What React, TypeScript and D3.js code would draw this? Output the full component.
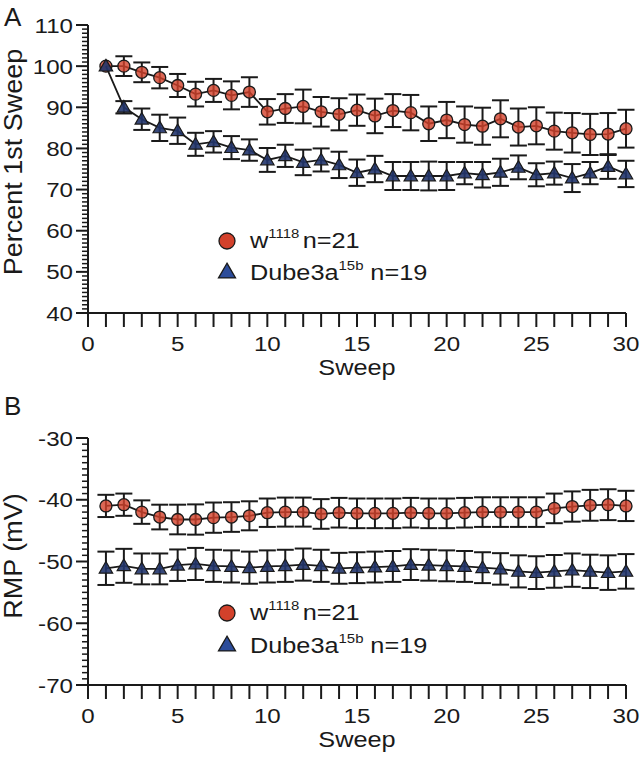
import React from "react";
import * as d3 from "d3";

const sweeps = [1,2,3,4,5,6,7,8,9,10,11,12,13,14,15,16,17,18,19,20,21,22,23,24,25,26,27,28,29,30];

const wA = [100,100,98.5,97.2,95.3,93.2,94.1,92.9,93.7,88.9,89.7,90.2,88.9,88.3,89.3,87.9,89.2,88.7,86.0,86.9,85.8,85.4,87.2,85.2,85.5,84.2,83.8,83.4,83.5,84.8];
const wAerr = [0,2.4,2.4,2.6,2.8,3.0,2.8,3.4,3.6,3.1,3.5,4.1,3.6,3.9,3.8,4.2,4.0,4.3,4.2,4.4,4.4,4.5,4.5,4.5,4.5,4.5,4.8,5.0,5.1,4.6];
const dA = [100,90.0,87.1,85.0,84.3,81.0,81.6,80.2,79.6,77.2,78.2,76.6,77.2,76.0,74.1,75.0,73.3,73.3,73.3,73.3,74.0,73.6,74.2,75.4,73.6,74.0,72.8,74.0,75.6,73.8];
const dAerr = [0,1.5,2.6,3.2,3.2,2.8,2.6,2.8,2.6,2.9,2.7,3.1,2.8,3.2,3.2,3.2,3.4,3.4,3.5,3.4,2.7,3.1,3.3,2.9,2.8,2.8,3.4,2.7,3.0,3.2];

const wB = [-41.0,-40.8,-42.0,-42.8,-43.2,-43.2,-42.9,-42.8,-42.6,-42.1,-42.0,-42.0,-42.3,-42.1,-42.2,-42.2,-42.2,-42.1,-42.2,-42.2,-42.1,-42.0,-42.0,-42.0,-42.0,-41.4,-41.1,-40.9,-40.8,-41.0];
const wBerr = [1.8,1.8,1.9,2.0,2.4,2.45,2.45,2.4,2.35,2.3,2.35,2.35,2.4,2.4,2.4,2.4,2.4,2.4,2.4,2.4,2.4,2.4,2.4,2.4,2.4,2.4,2.45,2.5,2.5,2.45];
const dB = [-51.1,-50.7,-51.2,-51.2,-50.6,-50.4,-50.7,-50.8,-51.0,-50.8,-50.7,-50.5,-50.7,-51.1,-51.0,-50.9,-50.8,-50.5,-50.6,-50.7,-50.8,-51.0,-51.2,-51.6,-51.8,-51.6,-51.4,-51.6,-51.8,-51.6];
const dBerr = [2.7,2.75,2.5,2.5,2.55,2.6,2.6,2.6,2.6,2.6,2.6,2.6,2.6,2.5,2.5,2.5,2.5,2.5,2.5,2.5,2.5,2.5,2.55,2.6,2.65,2.65,2.7,2.7,2.8,2.8];

const xTicks = [0,5,10,15,20,25,30];
const yTicksA = [40,50,60,70,80,90,100,110];
const yTicksB = [-70,-60,-50,-40,-30];

const FONT = "'Liberation Sans', Arial, Helvetica, sans-serif";
const INK = "#1a1a1a";
const RED = "#d3412b";
const BLUE = "#2c4c9a";
const DARKBLUE = "#22356c";
const SX = 1.15;

type Sc = d3.ScaleLinear<number, number>;

function SText({ x, y, size, anchor = "start", sx = SX, children }: any) {
  return (
    <g transform={`translate(${x},${y}) scale(${sx},1)`}>
      <text x={0} y={0} fontSize={size} fontFamily={FONT} textAnchor={anchor} fill={INK}>
        {children}
      </text>
    </g>
  );
}

function Axes({ x, y, yTicks, yMinorStep, yLabel, yLabelCenter }: { x: Sc; y: Sc; yTicks: number[]; yMinorStep: number; yLabel: string; yLabelCenter: number }) {
  const [y0, y1] = y.domain();
  const minors = d3.range(y0, y1 + 0.001, yMinorStep).filter((v) => !yTicks.some((t) => Math.abs(t - v) < 1e-6));
  const xAll = d3.range(0, 31, 1);
  const x0 = x(0);
  const yb = y(y0);
  return (
    <g>
      <line x1={x0} x2={x0} y1={y(y1)} y2={yb} stroke={INK} strokeWidth={2} />
      <line x1={x0} x2={x(30)} y1={yb} y2={yb} stroke={INK} strokeWidth={2} />
      {minors.map((v) => (
        <line key={"m" + v} x1={x0 - 6} x2={x0} y1={y(v)} y2={y(v)} stroke={INK} strokeWidth={1.5} />
      ))}
      {yTicks.map((v) => (
        <g key={"t" + v}>
          <line x1={x0 - 12} x2={x0} y1={y(v)} y2={y(v)} stroke={INK} strokeWidth={2} />
          <SText x={x0 - 15} y={y(v) + 7.5} size={21} anchor="end">{v}</SText>
        </g>
      ))}
      {xAll.map((v) => (
        <line key={"x" + v} x1={x(v)} x2={x(v)} y1={yb} y2={yb + 14} stroke={INK} strokeWidth={2} />
      ))}
      {xTicks.map((v) => (
        <SText key={"xl" + v} x={x(v)} y={yb + 38} size={21} anchor="middle">{v}</SText>
      ))}
      <SText x={(x(0) + x(30)) / 2} y={yb + 62} size={22} anchor="middle">Sweep</SText>
      <g transform={`translate(22,${yLabelCenter}) rotate(-90) scale(1.08,1)`}>
        <text x={0} y={0} fontSize={25} fontFamily={FONT} textAnchor="middle" fill={INK}>{yLabel}</text>
      </g>
    </g>
  );
}

function Series({ x, y, vals, errs, kind }: { x: Sc; y: Sc; vals: number[]; errs: number[]; kind: "circle" | "tri" }) {
  const pts = sweeps.map((s, i) => ({ s, v: vals[i], e: errs[i] }));
  const line = d3.line<any>().x((d) => x(d.s)).y((d) => y(d.v));
  const cap = 8.5;
  const tri = d3.symbol().type(d3.symbolTriangle).size(78)();
  return (
    <g>
      {pts.filter((d) => d.e > 0).map((d) => (
        <g key={"e" + d.s} stroke={INK} strokeWidth={2}>
          <line x1={x(d.s)} x2={x(d.s)} y1={y(d.v + d.e)} y2={y(d.v - d.e)} />
          <line x1={x(d.s) - cap} x2={x(d.s) + cap} y1={y(d.v + d.e)} y2={y(d.v + d.e)} />
          <line x1={x(d.s) - cap} x2={x(d.s) + cap} y1={y(d.v - d.e)} y2={y(d.v - d.e)} />
        </g>
      ))}
      <path d={line(pts) || ""} fill="none" stroke={INK} strokeWidth={1.8} />
      {pts.map((d) =>
        kind === "circle" ? (
          <circle key={"c" + d.s} cx={x(d.s)} cy={y(d.v)} r={6} fill={RED} fillOpacity={0.8} stroke={INK} strokeWidth={1.3} />
        ) : (
          <path key={"t" + d.s} d={tri || ""} transform={`translate(${x(d.s)},${y(d.v) + 1})`} fill={DARKBLUE} fillOpacity={0.9} stroke={INK} strokeWidth={1.2} />
        )
      )}
    </g>
  );
}

function Legend({ x, yc, yt }: { x: number; yc: number; yt: number }) {
  const tri = d3.symbol().type(d3.symbolTriangle).size(125)();
  const tx = x + 23;
  return (
    <g>
      <circle cx={x} cy={yc} r={8} fill={RED} stroke={INK} strokeWidth={1.3} />
      <path d={tri || ""} transform={`translate(${x},${yt + 1})`} fill={BLUE} stroke={INK} strokeWidth={1.3} />
      <g transform={`translate(${tx},${yc + 7}) scale(${SX},1)`}>
        <text fontSize={22} fontFamily={FONT} fill={INK}>
          w<tspan fontSize={13} dy={-10}>1118</tspan>
          <tspan dy={10} dx={3}>n=21</tspan>
        </text>
      </g>
      <g transform={`translate(${tx},${yt + 8}) scale(${SX},1)`}>
        <text fontSize={22} fontFamily={FONT} fill={INK}>
          Dube3a<tspan fontSize={13} dy={-10}>15b</tspan>
          <tspan dy={10} dx={6}>n=19</tspan>
        </text>
      </g>
    </g>
  );
}

export default function App() {
  const xA = d3.scaleLinear().domain([0, 30]).range([88, 626]);
  const yA = d3.scaleLinear().domain([40, 110]).range([313, 25]);
  const xB = d3.scaleLinear().domain([0, 30]).range([88, 626]);
  const yB = d3.scaleLinear().domain([-70, -30]).range([685, 438]);
  return (
    <svg width={642} height={757} style={{ position: "absolute", left: 0, top: 0, background: "#fff" }}>
      <rect x={0} y={0} width={642} height={757} fill="#fff" />
      <text x={4} y={26} fontSize={26} fontFamily={FONT} fill={INK}>A</text>
      <text x={4} y={415} fontSize={26} fontFamily={FONT} fill={INK}>B</text>

      <Axes x={xA} y={yA} yTicks={yTicksA} yMinorStep={1} yLabel="Percent 1st Sweep" yLabelCenter={162} />
      <Series x={xA} y={yA} vals={wA} errs={wAerr} kind="circle" />
      <Series x={xA} y={yA} vals={dA} errs={dAerr} kind="tri" />
      <Legend x={227} yc={241} yt={272} />

      <Axes x={xB} y={yB} yTicks={yTicksB} yMinorStep={1} yLabel="RMP (mV)" yLabelCenter={556} />
      <Series x={xB} y={yB} vals={wB} errs={wBerr} kind="circle" />
      <Series x={xB} y={yB} vals={dB} errs={dBerr} kind="tri" />
      <Legend x={227} yc={613} yt={645} />
    </svg>
  );
}
